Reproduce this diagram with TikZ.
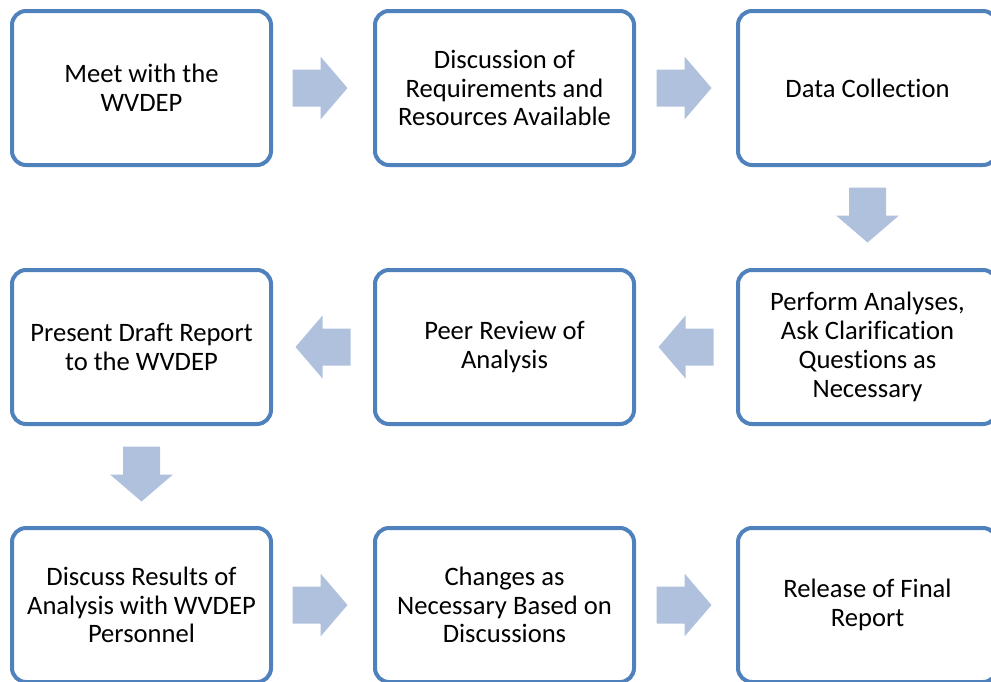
\documentclass[tikz,border=0pt]{standalone}
\usepackage{fontspec}
\setmainfont[Ligatures=NoCommon]{Carlito}
\usetikzlibrary{calc}
\definecolor{boxblue}{RGB}{79,129,189}
\definecolor{arrowblue}{RGB}{176,193,222}
\tikzset{block arrow/.pic={
  \fill[arrowblue] (-13.75,-9.25) -- (0.25,-9.25) -- (0.25,-15.75) -- (13.75,0)
    -- (0.25,15.75) -- (0.25,9.25) -- (-13.75,9.25) -- cycle;}}

\begin{document}
\begin{tikzpicture}[x=1pt,y=1pt,main node/.style={rectangle,rounded corners=7pt,draw=boxblue,line width=2pt,fill=white,align=center,minimum width=129.5pt,minimum height=77pt,outer sep=0pt,font=\fontsize{13.3}{14.4}\selectfont}]

	      \useasboundingbox (0,0) rectangle (495.5,-340.5);
	      \clip (0,0) rectangle (495.5,-340.5);

	      \node[main node] at (70.75,-44) (1) {Meet with the\\WVDEP};
	      \node[main node] at (252.25,-44) (2) {Discussion of\\Requirements and\\Resources Available};
	      \node[main node] at (433.75,-44) (3) {Data Collection};
	      \node[main node] at (433.75,-173.5) (4) {Perform Analyses,\\Ask Clarification\\Questions as\\Necessary};
	      \node[main node] at (252.25,-173.5) (5) {Peer Review of\\Analysis};
	      \node[main node] at (70.75,-173.5) (6) {Present Draft Report\\to the WVDEP};
	      \node[main node] at (70.75,-302.5) (7) {Discuss Results of\\Analysis with WVDEP\\Personnel};
	      \node[main node] at (252.25,-302.5) (8) {Changes as\\Necessary Based on\\Discussions};
	      \node[main node] at (433.75,-302.5) (9) {Release of Final\\Report};

	      \pic at ($(1.east)!0.5!(2.west)+(-1.5,0)$) {block arrow};
	      \pic at ($(2.east)!0.5!(3.west)+(-1,0)$) {block arrow};
	      \pic[rotate=-90] at ($(3.south)!0.5!(4.north)+(0,1.25)$) {block arrow};
	      \pic[rotate=180] at ($(4.west)!0.5!(5.east)$) {block arrow};
	      \pic[rotate=180] at ($(5.west)!0.5!(6.east)$) {block arrow};
	      \pic[rotate=-90] at ($(6.south)!0.5!(7.north)+(0,1)$) {block arrow};
	      \pic at ($(7.east)!0.5!(8.west)+(-1.5,0)$) {block arrow};
	      \pic at ($(8.east)!0.5!(9.west)+(-1,0)$) {block arrow};

	    \end{tikzpicture}
\end{document}
